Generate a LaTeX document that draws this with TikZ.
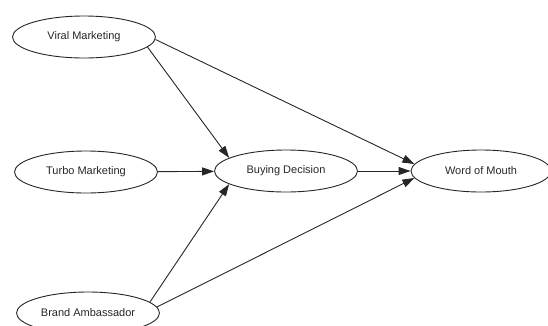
\documentclass[tikz,border=0pt]{standalone}
\usepackage{fontspec}
\setmainfont{Liberation Sans}
\usetikzlibrary{shapes.geometric,arrows.meta}
\begin{document}
\begin{tikzpicture}[x=1pt,y=-1pt,
  var/.style={ellipse,draw=black!85,line width=0.9pt,minimum width=143pt,minimum height=42pt,inner sep=0pt,font=\fontsize{11}{13}\selectfont,text=black!85},
  conn/.style={draw=black!85,line width=0.9pt,-{Triangle[length=12pt,width=8pt]}}]
\useasboundingbox (0,0) rectangle (548,325);
\node[var] (viral) at (84,37) {Viral Marketing};
\node[var] (turbo) at (86,172) {Turbo Marketing};
\node[var] (brand) at (88,313) {Brand Ambassador};
\node[var] (buy) at (286,171) {Buying Decision};
\node[var,minimum width=140pt] (wom) at (481,171) {Word of Mouth};
\draw[conn] (viral.-9) -- (buy.167);
\draw[conn] (viral.-2) -- (wom.174);
\draw[conn] (turbo) -- (buy);
\draw[conn] (buy) -- (wom);
\draw[conn] (brand.10) -- (buy.193);
\draw[conn] (brand.5) -- (wom.186);
\end{tikzpicture}
\end{document}
